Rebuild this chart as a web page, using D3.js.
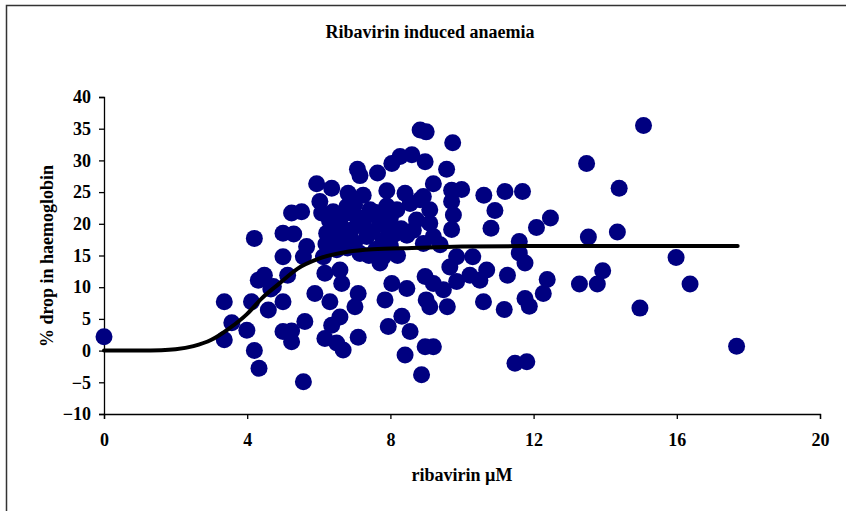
<!DOCTYPE html>
<html>
<head>
<meta charset="utf-8">
<script src="https://cdn.jsdelivr.net/npm/d3@7"></script>
<style>
  body { margin: 0; background: #fff; }
  text { font-family: "Liberation Serif", "Times New Roman", serif; font-weight: bold; }
</style>
</head>
<body>
<svg id="chart" width="846" height="511"></svg>
<script>
// ribavirin concentration (uM) and % drop in haemoglobin, one entry per patient
const ribavirin = [
  0.0, 3.36, 3.36, 3.57, 4.2, 4.12, 3.99, 4.2, 4.33, 4.48, 4.31, 4.66, 4.59, 5.0, 5.0, 5.13, 5.0, 5.24, 5.3, 5.0, 5.24, 5.24,
  8.83, 9.0, 7.08, 7.64, 8.04, 8.27, 8.6, 8.97, 5.94, 6.36, 6.82, 7.24, 7.9, 8.41, 9.2, 5.52, 6.03, 6.08, 6.4, 5.66,
  6.22, 6.78, 7.05, 7.43, 7.71, 8.18, 8.55, 8.92, 8.46, 8.92, 9.2, 8.73, 6.78, 7.34, 7.8, 6.13, 6.5, 7.15, 7.8,
  5.57, 4.73, 6.17, 6.59, 5.89, 6.64, 6.31, 7.1, 7.01, 6.59, 6.36, 5.61, 6.17, 6.5, 6.68, 7.1, 5.57, 7.71, 8.04,
  7.85, 7.94, 8.32, 8.55, 8.41, 8.87, 8.46, 8.97, 9.0, 8.97, 9.2, 9.2,
  9.74, 9.57, 9.71, 9.99, 10.61, 11.2, 11.69, 10.92, 10.81, 12.08, 12.47, 8.83, 9.71, 9.76, 9.71, 9.1, 9.1, 8.64,
  9.39, 11.6, 11.6, 11.76, 9.85, 10.3, 9.66, 10.22, 10.69, 10.5, 9.85, 11.27, 12.38, 12.27, 11.76, 11.88, 10.6,
  11.18, 9.1, 9.59, 9.48, 11.48, 11.81,
  15.07, 13.48, 14.39, 13.53, 14.34, 15.98, 13.93, 13.28, 13.78, 16.37, 14.97, 17.67,
  6.6, 6.9, 7.2, 7.5, 7.0, 7.6, 6.5, 7.9, 8.1, 7.3, 6.8, 8.0, 7.4, 8.3, 7.15, 6.3, 8.0,
  6.7, 7.6, 7.0, 6.2, 8.2, 7.9
];
const hbDrop = [
  2.2, 7.7, 1.7, 4.4, 17.7, 7.7, 3.2, 0.0, -2.8, 11.9, 11.1, 9.7, 6.4, 7.7, 14.8, 11.9, 18.5, 21.7, 18.4, 3.0, 3.1, 1.4,
  34.8, 34.5, 28.6, 28.0, 29.5, 30.6, 30.9, 29.8, 26.3, 25.6, 24.8, 24.5, 25.2, 24.8, 26.3, 21.9, 23.5, 21.7, 21.9, 16.4,
  18.5, 22.7, 21.1, 22.2, 20.1, 22.2, 23.2, 24.3, 18.2, 16.9, 18.0, 20.6, 17.4, 18.0, 17.4, 14.8, 15.9, 15.3, 14.8,
  14.8, 10.1, 12.2, 12.7, 9.0, 10.6, 7.7, 9.0, 6.9, 5.3, 4.0, 4.6, 1.9, 1.2, 0.1, 2.1, -4.9, 13.8, 10.6,
  8.0, 3.8, 5.4, 3.0, -0.7, -3.8, 9.8, 11.7, 8.0, 0.6, 0.6, 10.6,
  32.8, 28.6, 25.3, 25.4, 24.5, 25.1, 25.1, 22.1, 19.3, 19.4, 20.9, 23.8, 23.5, 21.4, 19.1, 22.2, 20.1, 19.0,
  16.7, 17.2, 15.4, 13.8, 14.8, 14.8, 13.2, 11.9, 12.7, 11.1, 10.9, 11.9, 11.2, 9.0, 8.2, 7.0, 7.7,
  6.5, 6.9, 6.9, 9.6, -2.0, -1.75,
  35.5, 29.5, 25.6, 17.9, 18.7, 14.7, 12.6, 10.5, 10.5, 10.5, 6.7, 0.7,
  20.0, 19.0, 19.8, 18.8, 17.0, 16.0, 18.3, 19.5, 18.3, 21.0, 16.2, 16.5, 15.0, 19.2, 27.6, 20.5, 21.0,
  21.5, 21.8, 23.0, 16.8, 15.0, 22.8
];

// fitted curve
const fitX = [0, 1, 1.6, 2.0, 2.5, 3.0, 3.5, 4.0, 4.4, 4.9, 5.4, 6.0, 6.8, 7.5, 8.6, 10, 12, 14, 17.7];
const fitY = [0, 0, 0.05, 0.2, 0.7, 1.7, 3.5, 5.8, 8.2, 10.6, 12.9, 14.5, 15.6, 16.0, 16.2, 16.4, 16.5, 16.5, 16.5];

const xTicks = [0, 4, 8, 12, 16, 20];
const yTicks = [-10, -5, 0, 5, 10, 15, 20, 25, 30, 35, 40];

const svg = d3.select("#chart");

let margin = { top: 97, left: 104 }, plotW = 716, plotH = 317;
let fontSize = 18;

// outer frame
svg.append("rect").attr("x", 6.5).attr("y", 5.5).attr("width", 900).attr("height", 600)
  .attr("fill", "none").attr("stroke", "#333").attr("stroke-width", 1.5);

let x = d3.scaleLinear().domain([0, 20]).range([margin.left, margin.left + plotW]);
let y = d3.scaleLinear().domain([-10, 40]).range([margin.top + plotH, margin.top]);

let g = svg.append("g");

let xAxis = g.append("g").attr("transform", "translate(0," + y(-10) + ")")
  .call(d3.axisBottom(x).tickValues(xTicks).tickSize(5).tickPadding(14));
let yAxis = g.append("g").attr("transform", "translate(" + x(0) + ",0)")
  .call(d3.axisLeft(y).tickValues(yTicks).tickSize(5).tickPadding(8));

[xAxis, yAxis].forEach(a => {
  a.selectAll("path,line").attr("stroke", "#000").attr("stroke-width", 1.3);
  a.selectAll("text").attr("font-size", fontSize).attr("fill", "#000")
    .style("font-family", "'Liberation Serif', serif").style("font-weight", "bold");
});

// scatter points
let pts = ribavirin.map((v, i) => ({ x: v, y: hbDrop[i] }));
g.append("g").selectAll("circle").data(pts).enter().append("circle")
  .attr("cx", d => x(d.x)).attr("cy", d => y(d.y)).attr("r", 8.5)
  .attr("fill", "#000080");

// fit line
let line = d3.line().x(d => x(d[0])).y(d => y(d[1])).curve(d3.curveMonotoneX);
g.append("path").datum(fitX.map((v, i) => [v, fitY[i]]))
  .attr("d", line).attr("fill", "none").attr("stroke", "#000").attr("stroke-width", 4)
  .attr("stroke-linecap", "round");

// titles
svg.append("text").attr("x", 430).attr("y", 32).attr("text-anchor", "middle")
  .attr("dominant-baseline", "central").attr("font-size", fontSize).text("Ribavirin induced anaemia");
svg.append("text").attr("x", 462).attr("y", 475).attr("text-anchor", "middle")
  .attr("dominant-baseline", "central").attr("font-size", fontSize).text("ribavirin µM");
svg.append("text").attr("transform", "translate(47,256) rotate(-90)").attr("text-anchor", "middle")
  .attr("dominant-baseline", "central").attr("font-size", fontSize).text("% drop in haemoglobin");
</script>
</body>
</html>
